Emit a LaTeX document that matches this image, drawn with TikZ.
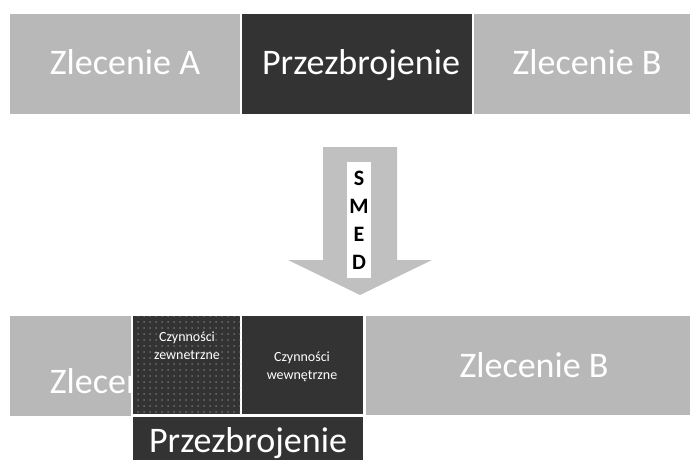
\documentclass[tikz,border=0pt]{standalone}
\usepackage{fontspec}
\setmainfont{Carlito}
\usetikzlibrary{patterns}
\definecolor{lightbar}{RGB}{184,184,184}
\definecolor{darkbar}{RGB}{51,51,51}
\definecolor{arrowgray}{RGB}{192,192,192}
\tikzset{
  bigtext/.style={text=white,inner sep=0pt,anchor=base,font=\fontsize{18}{21}\selectfont},
  smalltext/.style={text=white,inner sep=0pt,align=center,font=\fontsize{7}{9}\selectfont},
  smedbox/.style={fill=white,inner sep=0pt,minimum width=12pt,minimum height=58pt,
    align=center,font=\bfseries\fontsize{11}{14}\selectfont}
}
\begin{document}
\begin{tikzpicture}[x=.5pt,y=-.5pt,line join=round]
  \useasboundingbox (0,0) rectangle (690,460);
  \clip (0,0) rectangle (690,460);
  \fill[lightbar] (10,14) rectangle (240,114);
  \fill[darkbar] (242,14) rectangle (472,114);
  \fill[lightbar] (474,14) rectangle (700,114);
  \node[bigtext] (zlecA) at (125,75) {Zlecenie A};
  \node[bigtext] (przezb) at (361,75) {Przezbrojenie};
  \node[bigtext] (zlecB) at (587,75) {Zlecenie B};
  \fill[arrowgray] (323,147)--(397,147)--(397,260)--(432,260)--(360,295)
    --(288,260)--(323,260)--cycle;
  \node[smedbox] (smed) at (359,220) {S\\M\\E\\D};
  \fill[lightbar] (10,316) rectangle (131,416);
  \node[bigtext] (zlecAnew) at (125,393) {Zlecenie A};
  \fill[darkbar] (133,316) rectangle (240,414);
  \fill[pattern=dots,pattern color=gray!75!darkbar] (133,316) rectangle (240,414);
  \fill[darkbar] (242,316) rectangle (363,414);
  \fill[lightbar] (366,316) rectangle (700,415);
  \fill[darkbar] (133,417) rectangle (363,470);
  \node[smalltext] (zewn) at (187,346) {Czynności\\zewnetrzne};
  \node[smalltext] (wewn) at (302,367) {Czynności\\wewnętrzne};
  \node[bigtext] (zlecBnew) at (534,377) {Zlecenie B};
  \node[bigtext] (przezbnew) at (248,452) {Przezbrojenie};
\end{tikzpicture}
\end{document}
